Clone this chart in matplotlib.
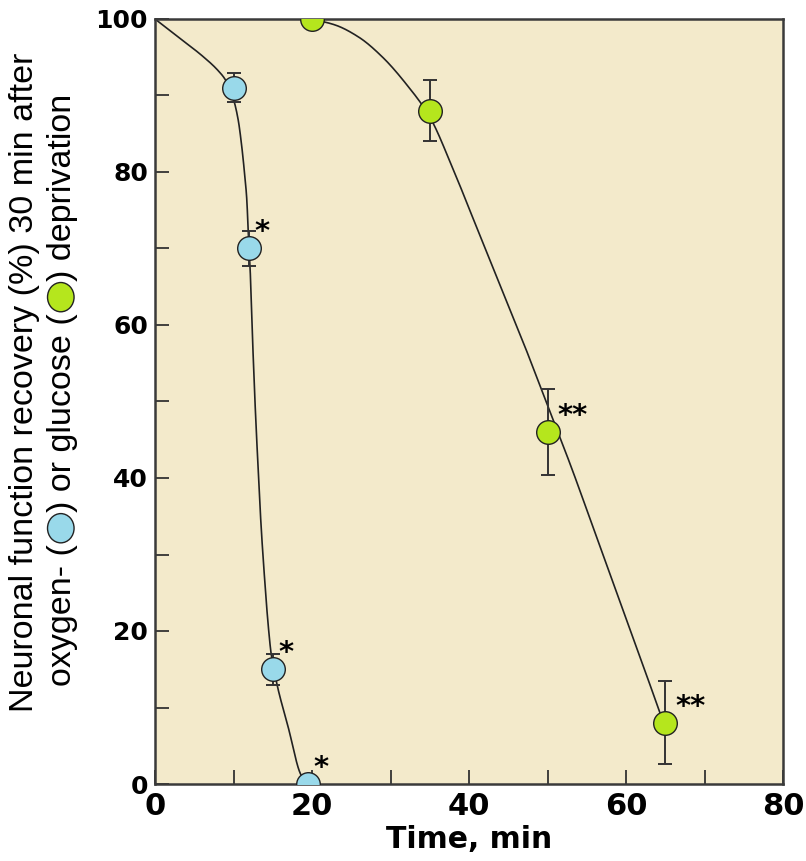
import numpy as np
import matplotlib
matplotlib.use("Agg")
import matplotlib.pyplot as plt
from matplotlib.ticker import MultipleLocator
from matplotlib.patches import Ellipse

# ---- data ---------------------------------------------------------------
# oxygen deprivation (blue)
oxy_time = [10, 12, 15, 19.5]
oxy_recovery = [91, 70, 15, 0]
oxy_err = [1.9, 2.3, 2.0, 0]
oxy_sig = ["", "*", "*", "*"]

# glucose deprivation (green)
glu_time = [20, 35, 50, 65]
glu_recovery = [100, 88, 46, 8]
glu_err = [0, 4.0, 5.6, 5.4]
glu_sig = ["", "", "**", "**"]

# hand-drawn fit curves (knots)
oxy_curve_t = [0, 3, 6, 8, 9, 10, 10.6, 11.0, 11.4, 11.7, 11.85, 12.1, 12.45,
               12.8, 13.15, 13.5, 13.95, 14.4, 14.8, 15.5, 17.0, 18.5, 19.3]
oxy_curve_y = [100, 97.6, 95.2, 93.3, 92.0, 89.5, 86.8, 83.8, 79.9, 76.3, 72.8,
               67.8, 57.5, 48.5, 41.0, 34.0, 27.0, 21.0, 17.0, 13.2, 7.3, 1.4, 0]
glu_curve_t = [20, 23, 26, 29, 32, 35, 38, 41, 44, 47, 50, 53, 56, 59, 62, 64.5]
glu_curve_y = [100, 99.2, 97.6, 95.0, 91.5, 87.2, 80.3, 72.7, 65.1, 57.5, 49.5,
               41.5, 33.0, 24.5, 16.0, 8.8]

xticks = [0, 20, 40, 60, 80]
yticks = [0, 20, 40, 60, 80, 100]

BLUE = "#99D9EA"
GREEN = "#B5E61D"
BG = "#F3EACB"
DARK = "#333333"


def pchip(x, y, xn):
    """Monotone piecewise cubic Hermite interpolation."""
    x = np.asarray(x, float)
    y = np.asarray(y, float)
    h = np.diff(x)
    d = np.diff(y) / h
    m = np.zeros_like(y)
    m[0], m[-1] = d[0], d[-1]
    for k in range(1, len(x) - 1):
        if d[k - 1] * d[k] > 0:
            w1 = 2 * h[k] + h[k - 1]
            w2 = h[k] + 2 * h[k - 1]
            m[k] = (w1 + w2) / (w1 / d[k - 1] + w2 / d[k])
    idx = np.clip(np.searchsorted(x, xn) - 1, 0, len(h) - 1)
    t = (xn - x[idx]) / h[idx]
    h00 = 2 * t**3 - 3 * t**2 + 1
    h10 = t**3 - 2 * t**2 + t
    h01 = -2 * t**3 + 3 * t**2
    h11 = t**3 - t**2
    return (h00 * y[idx] + h10 * h[idx] * m[idx]
            + h01 * y[idx + 1] + h11 * h[idx] * m[idx + 1])


W, H = 806, 861
fig = plt.figure(figsize=(W / 100, H / 100), dpi=100)
fig.patch.set_facecolor("white")
ax = fig.add_axes([155 / W, 1 - 784 / H, 628 / W, 765 / H])
ax.set_facecolor(BG)
ax.set_xlim(0, 80)
ax.set_ylim(0, 100)

# fitted curves
for ct, cy in ((oxy_curve_t, oxy_curve_y), (glu_curve_t, glu_curve_y)):
    tt = np.linspace(ct[0], ct[-1], 500)
    ax.plot(tt, pchip(ct, cy, tt), color="#222222", lw=1.2, zorder=2)

# error bars + markers
for tx, ry, er, col in ((oxy_time, oxy_recovery, oxy_err, BLUE),
                        (glu_time, glu_recovery, glu_err, GREEN)):
    tx_e = [a for a, e in zip(tx, er) if e > 0]
    ry_e = [b for b, e in zip(ry, er) if e > 0]
    er_e = [e for e in er if e > 0]
    ax.errorbar(tx_e, ry_e, yerr=er_e, fmt="none", ecolor=DARK, elinewidth=1.4,
                capsize=5, capthick=1.4, zorder=3)
    ax.plot(tx, ry, "o", ms=17, mfc=col, mec="#222222", mew=1.0, zorder=4)

# significance marks
for tx, ry, sg in ((oxy_time, oxy_recovery, oxy_sig), (glu_time, glu_recovery, glu_sig)):
    for a, b, s in zip(tx, ry, sg):
        if s:
            dx = 13 if len(s) == 1 else 25
            ax.annotate(s, xy=(a, b), xytext=(dx, 16), textcoords="offset pixels",
                        ha="center", va="center", fontsize=21, fontweight="bold",
                        family="DejaVu Sans", color="black", annotation_clip=False)

# axes styling
ax.xaxis.set_minor_locator(MultipleLocator(10))
ax.yaxis.set_minor_locator(MultipleLocator(10))
ax.set_xticks(xticks)
ax.set_yticks(yticks)
ax.set_xticklabels([str(v) for v in xticks], fontsize=22, fontweight="bold",
                   family="DejaVu Sans")
ax.set_yticklabels([str(v) for v in yticks], fontsize=18, fontweight="bold",
                   family="DejaVu Sans")
ax.tick_params(which="both", direction="in", length=10, width=1.3, color=DARK,
               top=False, right=False)
ax.tick_params(axis="x", pad=6)
ax.tick_params(axis="y", pad=5)
for sp in ax.spines.values():
    sp.set_color("#3a3a3a")
    sp.set_linewidth(1.8)

ax.set_xlabel("Time, min", fontsize=21.5, fontweight="bold", family="DejaVu Sans",
              va="top")
ax.xaxis.set_label_coords(0.5, -(825 - 784) / 765)

# two-line y label with inline symbols
LBL = dict(family="Liberation Sans", fontsize=24.5, color="black")
fig.text(33 / W, 1 - 382 / H, "Neuronal function recovery (%) 30 min after",
         rotation=90, rotation_mode="anchor", ha="center", va="baseline", **LBL)

renderer = fig.canvas.get_renderer()


def text_len(s):
    t = fig.text(0, 0, s, **LBL)
    w = t.get_window_extent(renderer).width
    t.remove()
    return w


pieces = ["oxygen- (", ") or glucose (", ") deprivation"]
symbols = [BLUE, GREEN]
em = LBL["fontsize"] * 100 / 72
gap = 0.95 * em
lens = [text_len(p) for p in pieces]
total = sum(lens) + gap * len(symbols)
base_x = 71
y = (H - 390) - total / 2
for i, p in enumerate(pieces):
    fig.text(base_x / W, y / H, p, rotation=90, rotation_mode="anchor",
             ha="left", va="baseline", **LBL)
    y += lens[i]
    if i < len(symbols):
        cy = y + gap / 2
        fig.add_artist(Ellipse((base_x - 0.3 * em, cy), width=0.78 * em, height=0.86 * em,
                               transform=None, facecolor=symbols[i],
                               edgecolor="#222222", lw=1.0))
        y += gap

fig.savefig("out.png", dpi=100, facecolor="white")
